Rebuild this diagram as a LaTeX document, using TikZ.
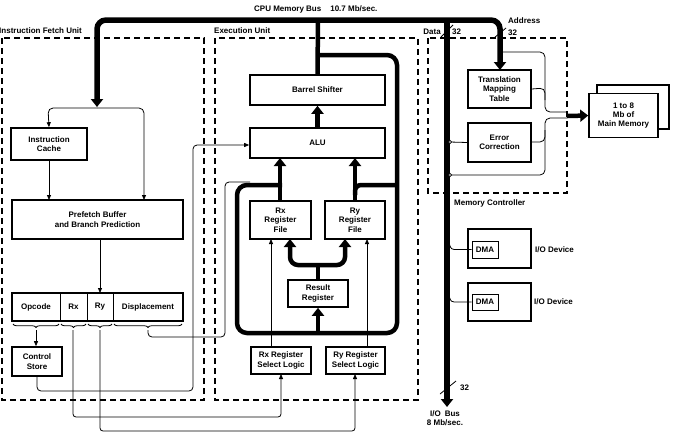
\documentclass[tikz,border=0pt]{standalone}
\usepackage{fontspec}
\setmainfont{Liberation Sans}
\usetikzlibrary{arrows.meta,decorations.pathreplacing}
\newcommand\lblfont{\bfseries\fontsize{8bp}{9.3bp}\selectfont}
\tikzset{
  box/.style={draw, line width=1.6bp, fill=white, align=center, inner sep=0pt, font=\lblfont},
  smallbox/.style={draw, line width=0.9bp, fill=white, align=center, inner sep=0pt, font=\lblfont},
  lab/.style={align=center, inner sep=0pt, font=\lblfont},
  unit/.style={line width=1.2bp, dash pattern=on 6bp off 4bp},
  bus/.style={line width=5.5bp},
  fat/.style={line width=4.5bp},
  bigtip/.style={-{Triangle[width=12bp,length=8bp]}},
  thinl/.style={line width=0.8bp},
  thinarr/.style={line width=0.8bp, -{Triangle[width=4bp,length=5bp]}},
  brc/.style={decorate, decoration={brace, mirror, amplitude=3.5bp}, line width=0.8bp}
}
\begin{document}
\begin{tikzpicture}[x=1bp,y=-1bp]
\useasboundingbox (0,0) rectangle (673,432);

% dashed unit frames
\draw[unit] (2,38) rectangle (204,400);
\draw[unit] (215,38) rectangle (418,400);
\draw[unit] (428,38) rectangle (567,193);

% titles
\node[lab, anchor=west] (ifu) at (-1,31) {Instruction Fetch Unit};
\node[lab, anchor=west] (eu) at (214,31) {Execution Unit};
\node[lab, anchor=west] (cpubus) at (254,9) {CPU Memory Bus\hspace{9bp}10.7 Mb/sec.};
\node[lab, anchor=east] (datal) at (441,32) {Data};
\node[lab, anchor=west] (d32) at (452,32) {32};
\node[lab, anchor=west] (addrl) at (508,21) {Address};
\node[lab, anchor=west] (a32) at (508,33) {32};
\node[lab, anchor=west] (mcl) at (454,203) {Memory Controller};
\node[lab, anchor=west] (io32) at (460,388) {32};
\node[lab] (iobus) at (445,418.5) {I/O\hspace{4bp}Bus\\8 Mb/sec.};

% boxes: fetch unit
\node[box, minimum width=76bp, minimum height=32bp] (icache) at (49,144) {Instruction\\Cache};
\node[box, minimum width=171bp, minimum height=39bp] (prefetch) at (97.5,219.5) {Prefetch Buffer\\and Branch Prediction};
\node[box, minimum width=171bp, minimum height=28bp] (bar) at (97.5,307) {};
\node[lab] (opc) at (36,307) {Opcode};
\node[lab] (rxf) at (73.5,307) {Rx};
\node[lab] (ryf) at (100,307) {Ry};
\node[lab] (disp) at (148,307) {Displacement};
\draw[line width=0.9bp] (60,294) -- (60,320) (87,294) -- (87,320) (113,294) -- (113,320);
\node[box, minimum width=50bp, minimum height=29bp] (cstore) at (37,361.5) {Control\\Store};

% boxes: execution unit
\node[box, minimum width=135bp, minimum height=30bp] (barrel) at (317.5,90) {Barrel Shifter};
\node[box, minimum width=135bp, minimum height=30bp] (alu) at (317.5,143) {ALU};
\node[box, minimum width=61bp, minimum height=38bp] (rxfile) at (280.5,220) {Rx\\Register\\File};
\node[box, minimum width=60bp, minimum height=38bp] (ryfile) at (355,220) {Ry\\Register\\File};
\node[box, minimum width=60bp, minimum height=27bp] (result) at (318,293.5) {Result\\Register};
\node[box, minimum width=60bp, minimum height=27bp] (rxsel) at (281,360.5) {Rx Register\\Select Logic};
\node[box, minimum width=59bp, minimum height=27bp] (rysel) at (355.5,360.5) {Ry Register\\Select Logic};

% boxes: memory controller / memory / io
\node[box, minimum width=63bp, minimum height=38bp] (tmt) at (499.5,89) {Translation\\Mapping\\Table};
\node[box, minimum width=63bp, minimum height=39bp] (ec) at (499.5,142.5) {Error\\Correction};
\node[box, minimum width=72bp, minimum height=44bp] (memback) at (633,107) {};
\node[box, minimum width=69bp, minimum height=44bp] (mem) at (623.5,115.5) {1 to 8\\Mb of\\Main Memory};
\node[box, minimum width=63bp, minimum height=39bp] (io1) at (499.5,248.5) {};
\node[smallbox, minimum width=26bp, minimum height=17bp] (dma1) at (485,249.5) {DMA};
\node[lab, anchor=west] (io1l) at (535,250) {I/O Device};
\node[box, minimum width=63bp, minimum height=38bp] (io2) at (499.5,302) {};
\node[smallbox, minimum width=26bp, minimum height=16bp] (dma2) at (485,302) {DMA};
\node[lab, anchor=west] (io2l) at (534,302) {I/O Device};

% CPU memory bus
\draw[bus, rounded corners=9bp, {Triangle[width=12bp,length=8bp]}-{Triangle[width=12bp,length=8bp]}]
  (97,107) -- (97,20) -- (500,20) -- (500,70);
\draw[bus, bigtip] (447,19) -- (447,407);
\draw[fat] (318,19) -- (barrel.north);
\draw[fat, rounded corners=10bp] (318,55) -- (397,55) -- (397,333) -- (237,333) -- (237,185) -- (282,185);
\draw[fat, rounded corners=6bp] (355,195) -- (355,185) -- (397,185);
\draw[fat, bigtip] (alu.north) -- (barrel.south);
\draw[fat, bigtip] (280,201) -- (280,158);
\draw[fat, bigtip] (355,201) -- (355,158);
\draw[fat, bigtip] (318,333) -- (result.south);
\draw[fat] (result.north) -- (318,265);
\draw[fat, rounded corners=8bp, {Triangle[width=12bp,length=8bp]}-{Triangle[width=12bp,length=8bp]}]
  (290,239) -- (290,265) -- (345,265) -- (345,239);
\draw[fat, bigtip] (567,116) -- (mem.west);

% bus width marks
\draw[thinl] (441,37) -- (453,25);
\draw[thinl] (494,38) -- (506,28);
\draw[thinl] (440,394) -- (456,381);

% fetch unit thin connections
\draw[thinarr, rounded corners=5bp] (97,108) -- (48,108) -- (icache.north -| icache.north);
\draw[thinarr, rounded corners=5bp] (97,108) -- (144,108) -- (144,200);
\draw[thinarr] (icache.south) -- (49,200);
\draw[thinarr] (100,239) -- (100,293);
\draw[brc] (13,324) -- (59,324);
\draw[brc] (61,324) -- (86,324);
\draw[brc] (88,324) -- (112,324);
\draw[brc] (114,324) -- (182,324);
\draw[thinarr] (36,330) -- (cstore.north -| 36,347);
\draw[thinarr, rounded corners=4bp] (cstore.south) -- (37,391) -- (193,391) -- (193,145) -- (alu.west |- 0,145);
\draw[thinl, rounded corners=4bp] (148,330) -- (148,337) -- (225,337) -- (225,182) -- (250,182);
\draw[thinarr, rounded corners=3bp] (73,330) -- (73,417) -- (281,417) -- (281,374);
\draw[thinarr, rounded corners=3bp] (100,330) -- (100,431) -- (355,431) -- (355,374);
\draw[thinarr] (271,347) -- (271,239);
\draw[thinarr] (367,347) -- (367,239);

% memory controller thin connections
\draw[thinl, rounded corners=5bp] (502,52) -- (545,52) -- (545,112) -- (567,112);
\draw[thinl, rounded corners=5bp] (tmt.east) -- (545,88) -- (545,100);
\draw[thinl, rounded corners=5bp] (tmt.east |- 0,142) -- (545,142) -- (545,130);
\draw[thinl, rounded corners=5bp] (450,175) -- (545,175) -- (545,118) -- (567,118);
\draw[thinl] (450,142) -- (ec.west);
\draw[line width=0.6bp, fill=white] (450,142) circle (1.6bp);
\draw[line width=0.6bp, fill=white] (450,175) circle (1.6bp);

% DMA connections
\draw[thinl] (449,243) .. controls (451,249.5) .. (458,249.5) -- (dma1.west);
\draw[thinl] (449,296) .. controls (451,302) .. (458,302) -- (dma2.west);
\end{tikzpicture}
\end{document}
